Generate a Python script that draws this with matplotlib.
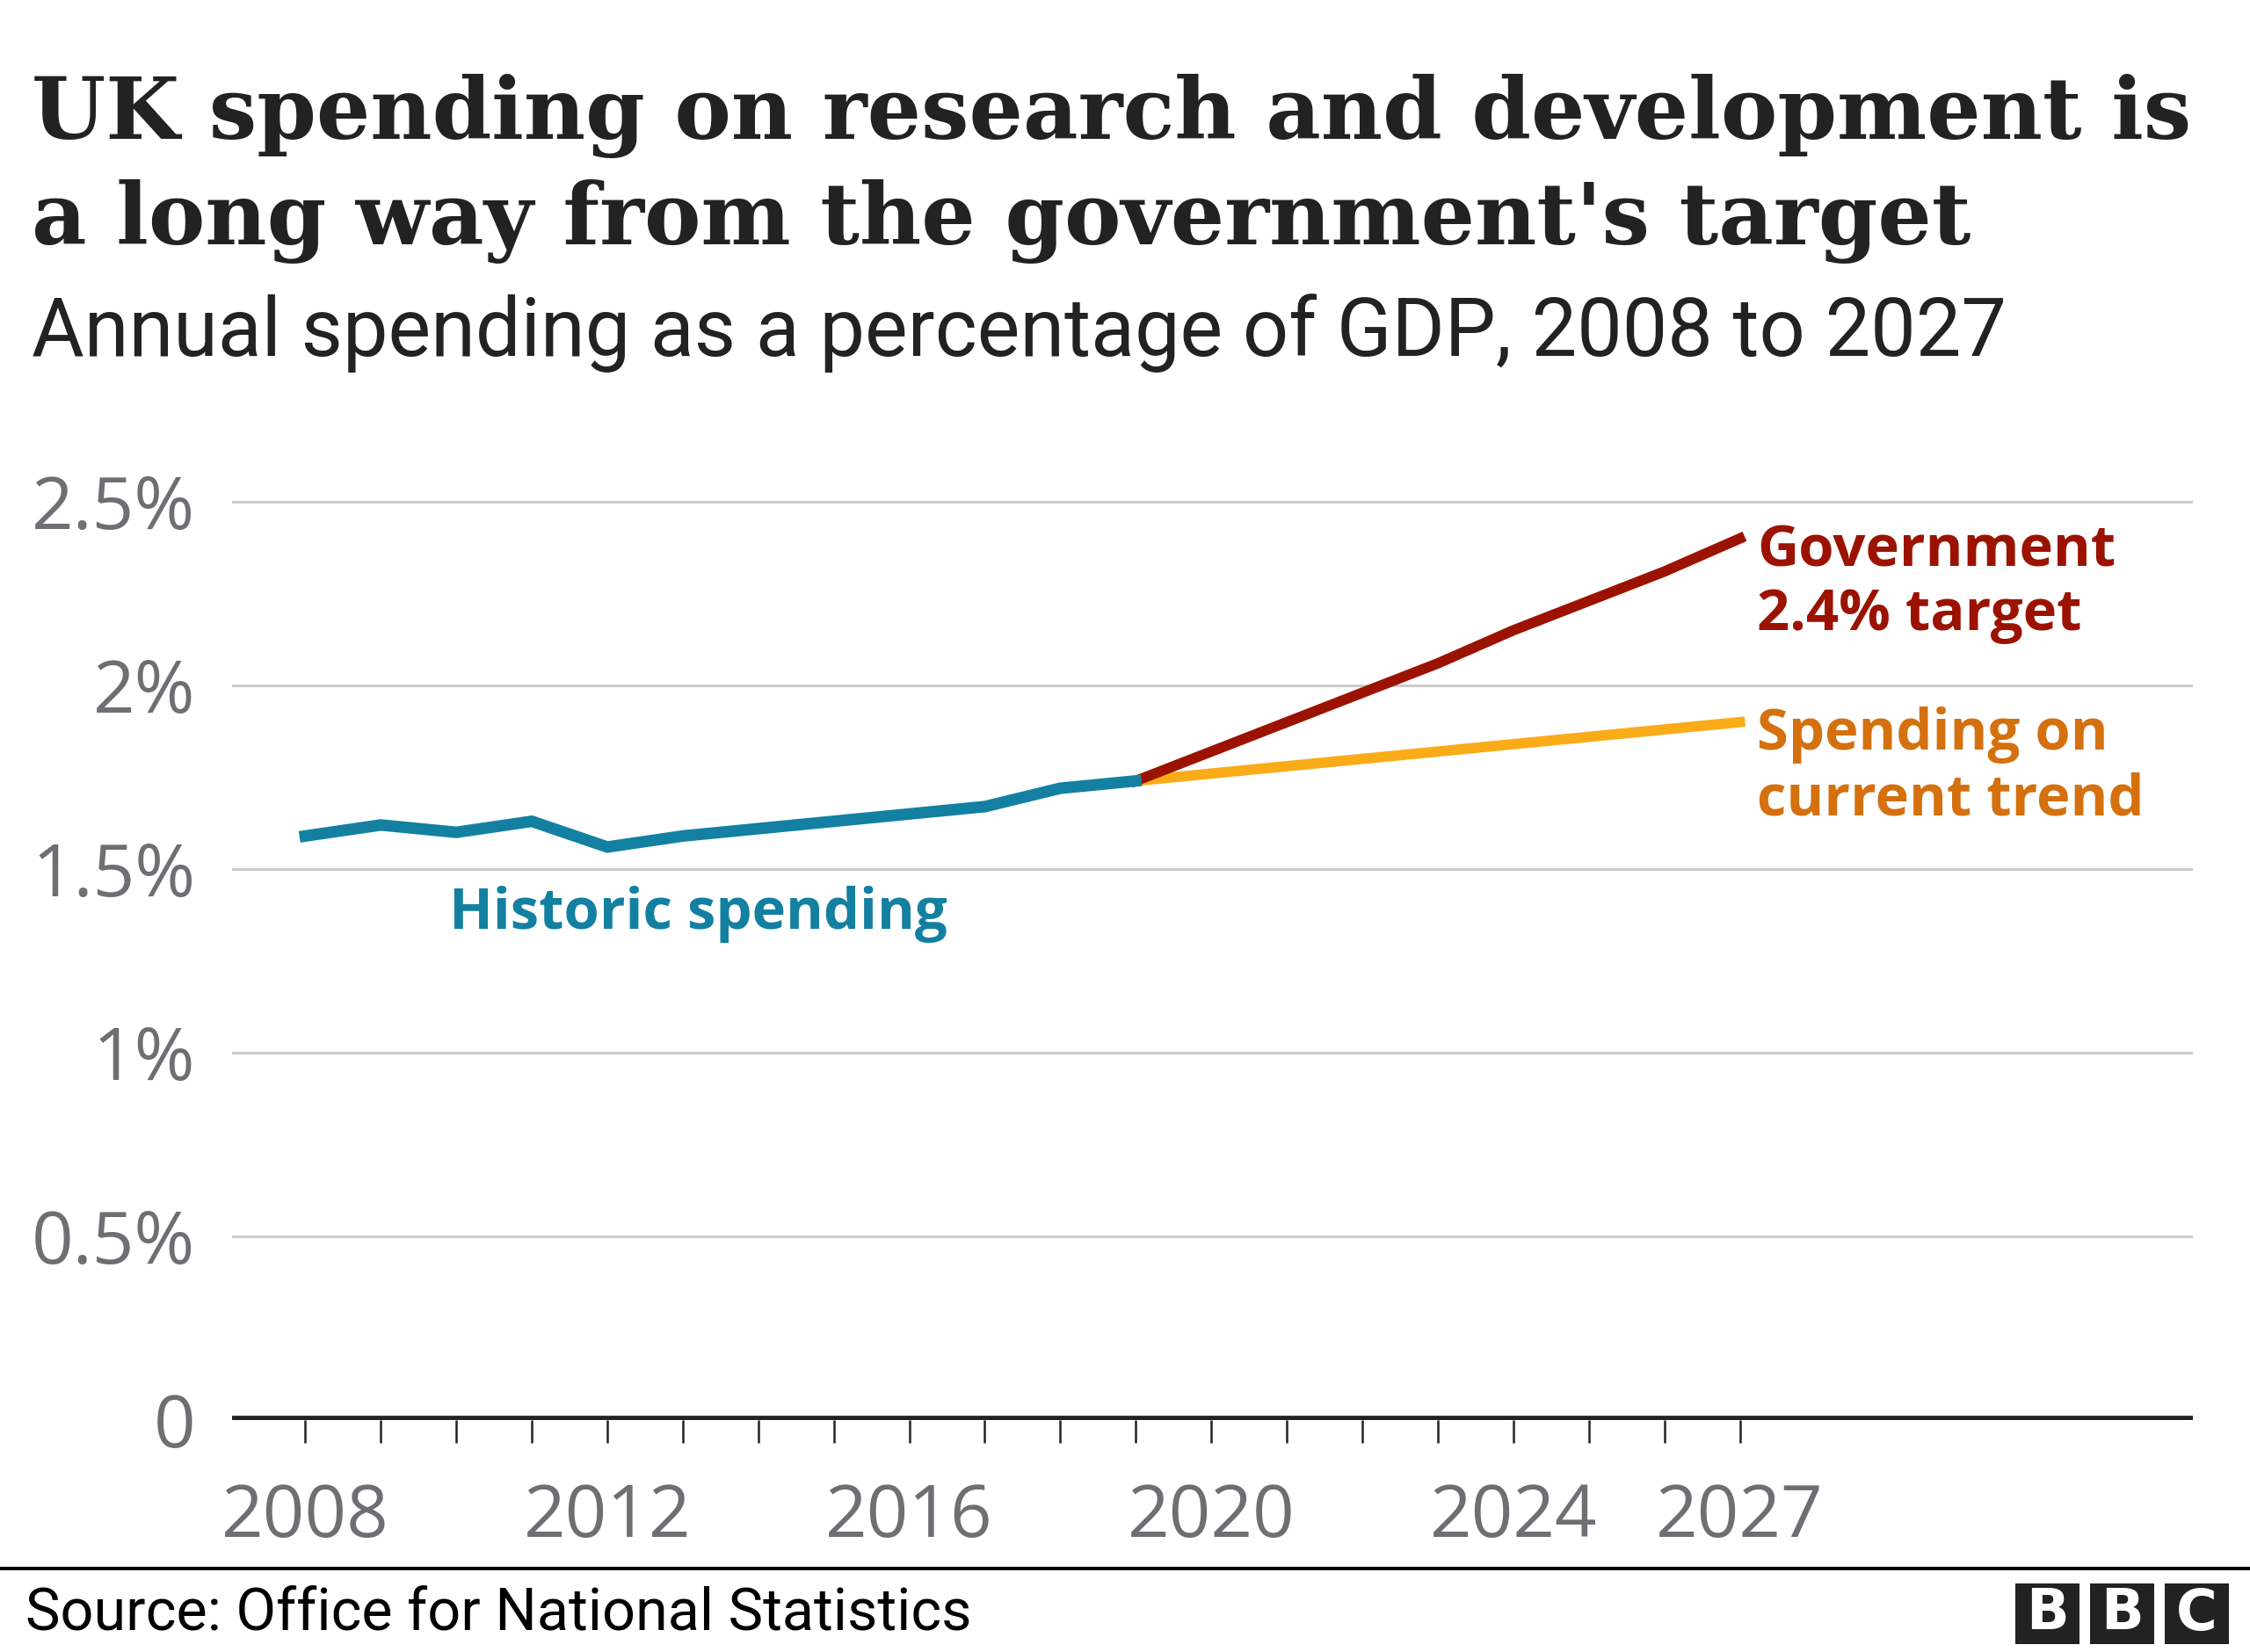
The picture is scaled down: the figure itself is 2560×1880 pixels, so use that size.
import matplotlib
matplotlib.use('Agg')
import matplotlib.pyplot as plt
from matplotlib.patches import Rectangle

# data (% of GDP)
hist_years = [2008, 2009, 2010, 2011, 2012, 2013, 2014, 2015, 2016, 2017, 2018, 2019]
hist_vals = [1.59, 1.62, 1.60, 1.63, 1.56, 1.59, 1.61, 1.63, 1.65, 1.67, 1.72, 1.74]

proj_years = [2019, 2020, 2021, 2022, 2023, 2024, 2025, 2026, 2027]
target_vals = [1.74, 1.82, 1.90, 1.98, 2.06, 2.15, 2.23, 2.31, 2.40]
trend_vals = [1.74, 1.76, 1.78, 1.80, 1.82, 1.84, 1.86, 1.88, 1.90]

y_ticks = [0, 0.5, 1, 1.5, 2, 2.5]
y_labels = ['0', '0.5%', '1%', '1.5%', '2%', '2.5%']
x_ticks = list(range(2008, 2028))
x_labeled = [2008, 2012, 2016, 2020, 2024, 2027]

TEAL = '#1380A1'
RED = '#9B1300'
YELLOW = '#FAAB18'
ORANGE = '#D5700F'
GREY = '#6E6E73'
DARK = '#222222'

W, H = 2560, 1880
fig = plt.figure(figsize=(W / 100, H / 100), dpi=100)


def fx(px):
    return px / W


def fy(px):
    return 1 - px / H


def fit(t, width_px):
    r = fig.canvas.get_renderer()
    bb = t.get_window_extent(r)
    t.set_fontsize(t.get_fontsize() * width_px / bb.width)
    return t.get_fontsize()


# axes: x 264..2495 px, y=0 at 1616 px, 0.5% = 209 px
ax = fig.add_axes([fx(264), fy(1616), fx(2495) - fx(264), 2.6 * 418 / H])
ax.set_xlim(2007.03, 2033.0)
ax.set_ylim(0, 2.6)

for s in ax.spines.values():
    s.set_visible(False)

for v in y_ticks[1:]:
    ax.axhline(v, color='#CCCCCC', lw=2.2, zorder=1)
ax.axhline(0, color=DARK, lw=7, zorder=3)

ax.plot(hist_years, hist_vals, color=TEAL, lw=9.5, solid_joinstyle='miter', zorder=5)
ax.plot(proj_years, trend_vals, color=YELLOW, lw=8.5, zorder=4)
ax.plot(proj_years, target_vals, color=RED, lw=8.5, zorder=4)

ax.set_yticks(y_ticks)
ax.set_yticklabels(y_labels)
ax.tick_params(axis='y', length=0, pad=30, labelsize=60, labelcolor=GREY)

ax.set_xticks(x_ticks)
ax.set_xticklabels([str(y) if y in x_labeled else '' for y in x_ticks])
ax.tick_params(axis='x', length=19, width=1.8, color=DARK, pad=32,
               labelsize=60, labelcolor=GREY)
for lab in ax.get_xticklabels() + ax.get_yticklabels():
    lab.set_fontfamily('Open Sans')

lab_kw = dict(fontsize=47, fontweight='bold', family='Open Sans', va='baseline')
ax.text(2009.9, 1.337, 'Historic spending', color=TEAL, **lab_kw)
ax.text(2027.23, 2.323, 'Government', color=RED, **lab_kw)
ax.text(2027.23, 2.151, '2.4% target', color=RED, **lab_kw)
ax.text(2027.23, 1.825, 'Spending on', color=ORANGE, **lab_kw)
ax.text(2027.23, 1.648, 'current trend', color=ORANGE, **lab_kw)

# titles
t1 = fig.text(fx(36), fy(158), 'UK spending on research and development is',
              family='DejaVu Serif', fontweight='bold', fontsize=60,
              color=DARK, va='baseline')
size = fit(t1, 2459)
fig.text(fx(36), fy(278), "a long way from the government's target",
         family='DejaVu Serif', fontweight='bold', fontsize=size,
         color=DARK, va='baseline')
st = fig.text(fx(36), fy(405), 'Annual spending as a percentage of GDP, 2008 to 2027',
              family='Roboto', fontsize=60, color=DARK, va='baseline')
fit(st, 2245)

# footer
fig.add_artist(plt.Line2D([0, 1], [fy(1785), fy(1785)], color='black', lw=2.8))
src = fig.text(fx(29), fy(1855), 'Source: Office for National Statistics',
               family='Roboto', fontsize=40, color='black', va='baseline')
fit(src, 1076)

for i, letter in enumerate('BBC'):
    x0 = 2293 + i * 85
    fig.add_artist(Rectangle((fx(x0), fy(1871)), fx(73), 69 / H,
                             facecolor='#222222', edgecolor='none'))
    fig.text(fx(x0 + 36.5), fy(1836.5), letter, color='white', fontsize=46,
             fontweight='bold', family='DejaVu Sans', ha='center', va='center')

fig.savefig('out.png', dpi=100, facecolor='white')
